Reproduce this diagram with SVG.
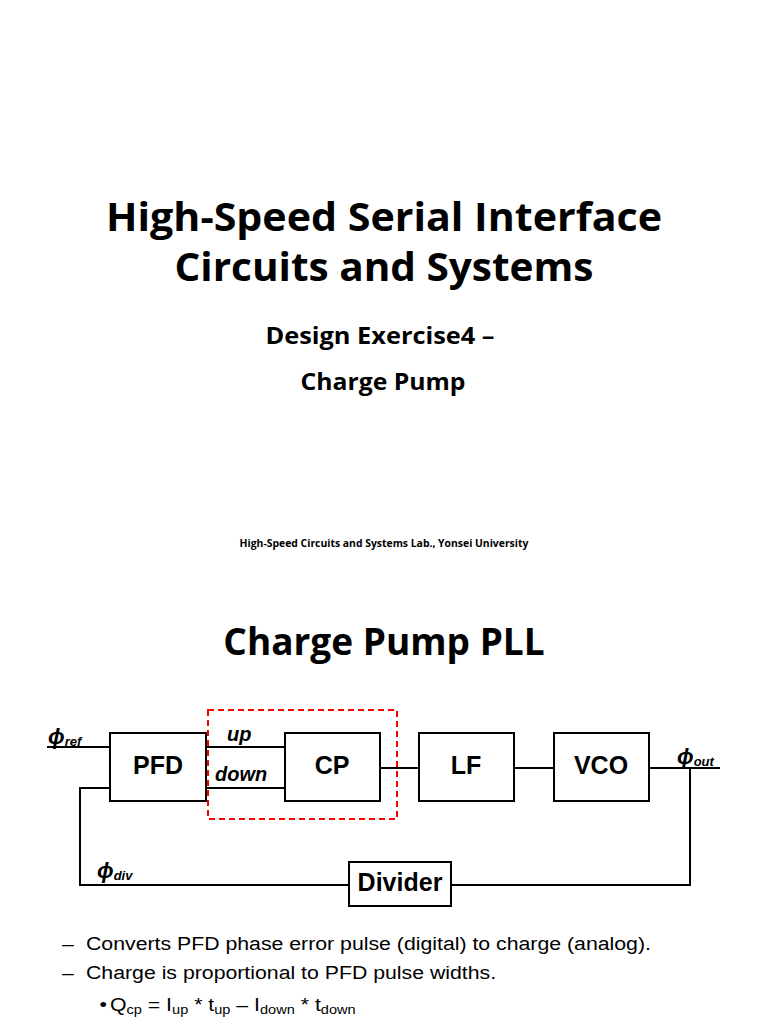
<svg xmlns="http://www.w3.org/2000/svg" width="768" height="1024" viewBox="0 0 768 1024">
<style>
.title{font-family:"Open Sans","Noto Sans",sans-serif;font-weight:bold;fill:#000;text-anchor:middle}
.box{fill:#fff;stroke:#000;stroke-width:2}
.blk{font-family:"Liberation Sans",Arial,sans-serif;font-weight:bold;font-size:25px;text-anchor:middle;fill:#000}
.lbl{font-family:"Liberation Sans",Arial,sans-serif;font-weight:bold;font-style:italic;fill:#000}
.wire{fill:none;stroke:#000;stroke-width:2}
.body{font-family:"Liberation Sans",Arial,sans-serif;font-size:19px;fill:#000}
</style>
<rect width="768" height="1024" fill="#fff"/>
<text class="title" x="384" y="231" font-size="40" textLength="556" lengthAdjust="spacingAndGlyphs">High-Speed Serial Interface</text>
<text class="title" x="384" y="281" font-size="40" textLength="419" lengthAdjust="spacingAndGlyphs">Circuits and Systems</text>
<text class="title" x="380" y="344" font-size="24" textLength="229" lengthAdjust="spacingAndGlyphs">Design Exercise4 –</text>
<text class="title" x="383" y="390" font-size="24" textLength="165" lengthAdjust="spacingAndGlyphs">Charge Pump</text>
<text class="title" x="384" y="547" font-size="10.4">High-Speed Circuits and Systems Lab., Yonsei University</text>
<text class="title" x="384" y="655" font-size="37">Charge Pump PLL</text>

<g id="connectors">
<path class="wire" d="M47 747H110"/>
<path class="wire" d="M206 747H285"/>
<path class="wire" d="M206 788H285"/>
<path class="wire" d="M380 768H419"/>
<path class="wire" d="M514 768H554"/>
<path class="wire" d="M649 768H720"/>
<path class="wire" d="M690 768V885H451"/>
<path class="wire" d="M349 885H80V788H110"/>
</g>
<g id="cp-highlight">
<rect x="208" y="710" width="189" height="109" fill="none" stroke="#f00" stroke-width="2" stroke-dasharray="6,4"/>
</g>
<g id="pfd">
<rect class="box" x="110" y="733" width="96" height="68"/>
<text class="blk" x="158" y="774">PFD</text>
</g>
<g id="cp">
<rect class="box" x="285" y="733" width="95" height="68"/>
<text class="blk" x="332" y="774">CP</text>
</g>
<g id="lf">
<rect class="box" x="419" y="733" width="95" height="68"/>
<text class="blk" x="466" y="774">LF</text>
</g>
<g id="vco">
<rect class="box" x="554" y="733" width="95" height="68"/>
<text class="blk" x="601" y="774">VCO</text>
</g>
<g id="divider">
<rect class="box" x="349" y="862" width="102" height="44"/>
<text class="blk" x="400" y="891" font-size="25">Divider</text>
</g>
<g id="labels">
<text class="lbl" x="227" y="741" font-size="20">up</text>
<text class="lbl" x="215" y="781" font-size="20">down</text>
<text class="lbl" x="48" y="744" font-size="22">ϕ<tspan font-size="13" dy="2">ref</tspan></text>
<text class="lbl" x="677" y="764" font-size="22">ϕ<tspan font-size="13" dy="2">out</tspan></text>
<text class="lbl" x="97" y="878" font-size="22">ϕ<tspan font-size="13" dy="2">div</tspan></text>
</g>
<g id="notes" transform="translate(86,0) scale(1.12,1) translate(-86,0)">
<text class="body" x="64.6" y="950">–</text>
<text class="body" x="86" y="950">Converts PFD phase error pulse (digital) to charge (analog).</text>
<text class="body" x="64.6" y="979">–</text>
<text class="body" x="86" y="979">Charge is proportional to PFD pulse widths.</text>
<text class="body" x="98" y="1011">•</text>
<text class="body" x="107.4" y="1011">Q<tspan font-size="13" dy="3">cp</tspan><tspan dy="-3"> = I</tspan><tspan font-size="13" dy="3">up</tspan><tspan dy="-3"> * t</tspan><tspan font-size="13" dy="3">up</tspan><tspan dy="-3"> –  I</tspan><tspan font-size="13" dy="3">down</tspan><tspan dy="-3"> * t</tspan><tspan font-size="13" dy="3">down</tspan></text>
</g>
</svg>
